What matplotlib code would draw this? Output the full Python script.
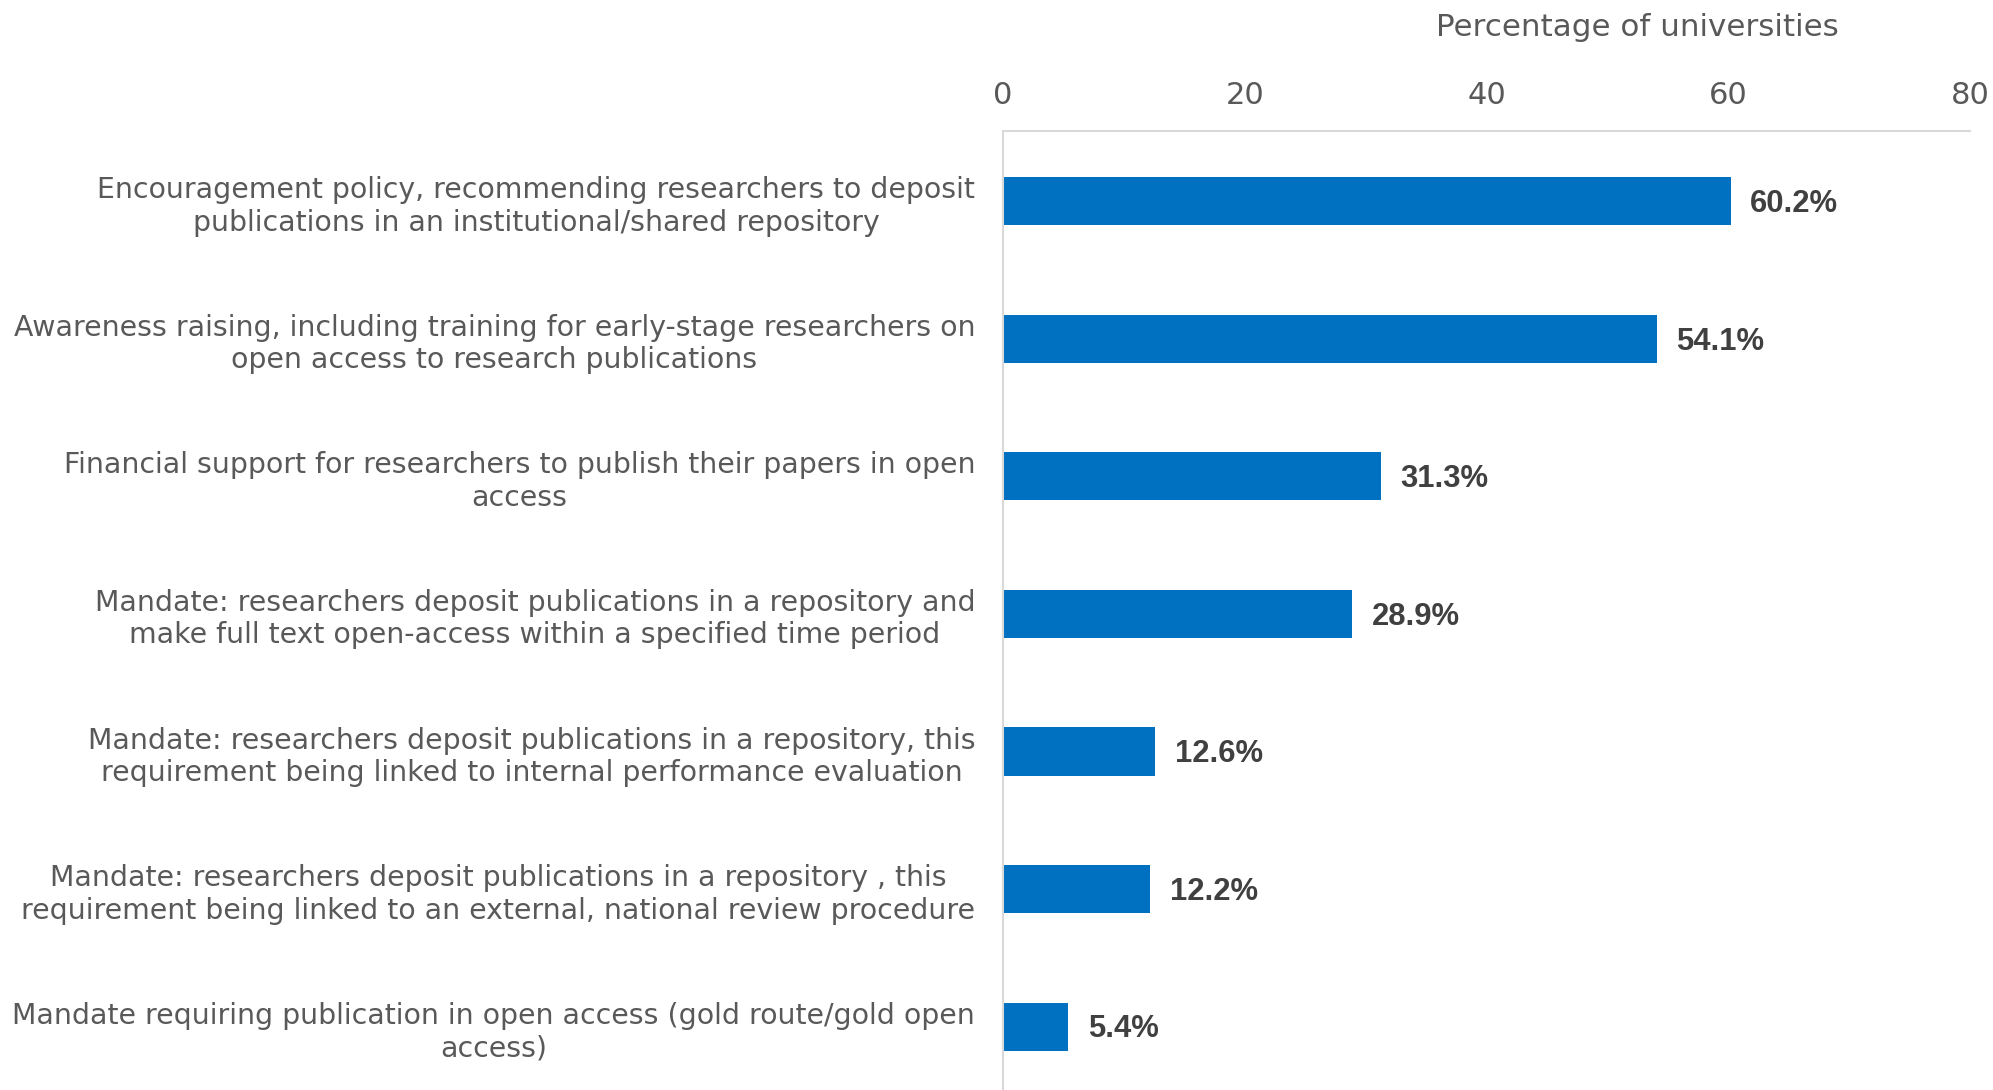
import matplotlib
matplotlib.use("Agg")
import matplotlib.pyplot as plt

categories = [
    "Encouragement policy, recommending researchers to deposit\npublications in an institutional/shared repository",
    "Awareness raising, including training for early-stage researchers on\nopen access to research publications",
    "Financial support for researchers to publish their papers in open\naccess",
    "Mandate: researchers deposit publications in a repository and\nmake full text open-access within a specified time period",
    "Mandate: researchers deposit publications in a repository, this\nrequirement being linked to internal performance evaluation",
    "Mandate: researchers deposit publications in a repository , this\nrequirement being linked to an external, national review procedure",
    "Mandate requiring publication in open access (gold route/gold open\naccess)",
]
values = [60.2, 54.1, 31.3, 28.9, 12.6, 12.2, 5.4]
value_labels = ["60.2%", "54.1%", "31.3%", "28.9%", "12.6%", "12.2%", "5.4%"]
xticks = [0, 20, 40, 60, 80]
axis_title = "Percentage of universities"

W, H = 1993, 1090
fig = plt.figure(figsize=(W / 100, H / 100), dpi=100)
ax = fig.add_axes([1003 / W, 0.0, (1970 - 1003) / W, 1 - 131 / H])

ypos = list(range(len(categories)))
ax.barh(ypos, values, height=0.35, color="#0070C0")
ax.set_xlim(0, 80)
ax.set_ylim(6.46, -0.51)

for y, v, lab in zip(ypos, values, value_labels):
    ax.annotate(lab, (v, y), xytext=(14, -2), textcoords="offset points",
                ha="left", va="center", fontsize=22.3, fontweight="bold",
                family="Liberation Sans", color="#404040")

ax.xaxis.tick_top()
ax.set_xticks(xticks)
ax.set_xticklabels([str(t) for t in xticks], fontsize=22, color="#595959",
                   family="DejaVu Sans")
ax.tick_params(axis="x", length=0, pad=15)

ax.set_yticks(ypos)
ax.set_yticklabels(categories, fontsize=20.4, color="#595959", family="DejaVu Sans")
for t in ax.get_yticklabels():
    t.set_multialignment("center")
ax.tick_params(axis="y", length=0, pad=20)

for s in ["right", "bottom"]:
    ax.spines[s].set_visible(False)
for s in ["top", "left"]:
    ax.spines[s].set_color("#D9D9D9")
    ax.spines[s].set_linewidth(1.5)

fig.text(1637 / W, 1 - 27 / H, axis_title, ha="center", va="center",
         fontsize=22.3, color="#595959", family="DejaVu Sans")

fig.savefig("out.png", dpi=100)
